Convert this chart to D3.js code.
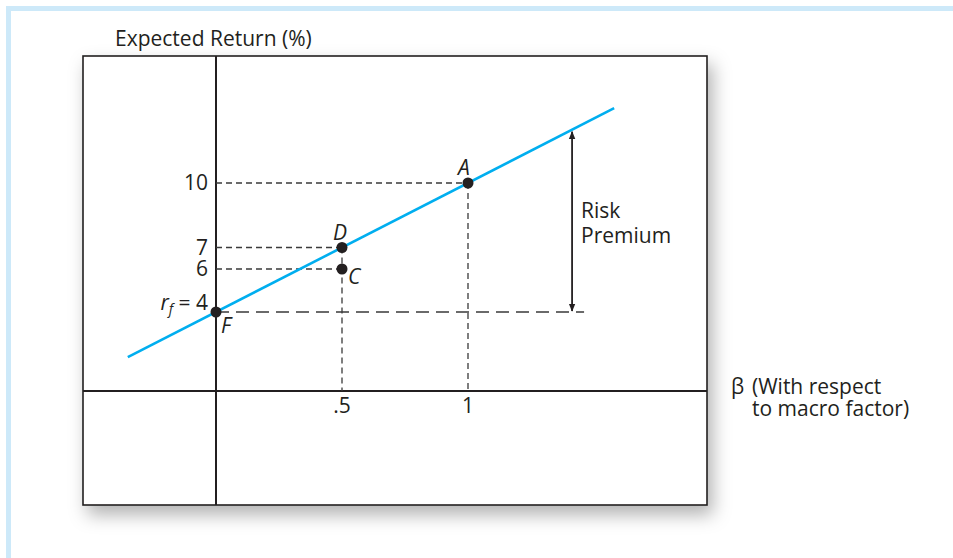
<!DOCTYPE html>
<html>
<head>
<meta charset="utf-8">
<script src="https://cdn.jsdelivr.net/npm/d3@7"></script>
<style>
  html, body { margin: 0; padding: 0; background: #fff; }
  svg { display: block; font-family: "Open Sans", "Noto Sans", sans-serif; }
  .lbl { font-size: 21px; fill: #231f20; }
  .it { font-style: italic; }
</style>
</head>
<body>
<svg id="chart" width="953" height="558"></svg>
<script>
// Security market line of a single-factor model
const rf = 4;
const smlBeta = [-0.35, 1.58];          // extent of the drawn line
const points = [
  { name: 'F', beta: 0,   ret: 4,  dx: 5,  dy: 21 },
  { name: 'D', beta: 0.5, ret: 7,  dx: -9, dy: -8 },
  { name: 'C', beta: 0.5, ret: 6,  dx: 6,  dy: 15 },
  { name: 'A', beta: 1,   ret: 10, dx: -10, dy: -8 }
];
const yTicks = [10, 7, 6];
const xTicks = [0.5, 1];
const xTickLabels = ['.5', '1'];
const premiumBeta = 1.413;              // where the risk premium arrow sits

const svg = d3.select('#chart');
const ink = '#231f20';
const blue = '#00aeef';

// page frame (light blue rule top & left)
svg.append('rect').attr('x', 6).attr('y', 6).attr('width', 947).attr('height', 5).attr('fill', '#cde9f9');
svg.append('rect').attr('x', 6).attr('y', 6).attr('width', 5).attr('height', 552).attr('fill', '#cde9f9');

// drop shadow for the plot box
const defs = svg.append('defs');
const f = defs.append('filter').attr('id', 'shadow').attr('x', '-10%').attr('y', '-10%').attr('width', '125%').attr('height', '130%');
f.append('feDropShadow').attr('dx', 5).attr('dy', 9).attr('stdDeviation', 9)
  .attr('flood-color', '#000').attr('flood-opacity', 0.3);

const box = { x0: 83, y0: 56, x1: 707, y1: 505 };
svg.append('rect')
  .attr('x', box.x0).attr('y', box.y0)
  .attr('width', box.x1 - box.x0).attr('height', box.y1 - box.y0)
  .attr('fill', '#fff').attr('stroke', ink).attr('stroke-width', 1.6)
  .attr('filter', 'url(#shadow)');

// scales
const x = d3.scaleLinear().domain([0, 1]).range([216, 468]);
const y = d3.scaleLinear().domain([4, 10]).range([312, 183]);
const axisY = 391;   // horizontal axis crossing

// axes lines
svg.append('line').attr('x1', box.x0).attr('x2', box.x1).attr('y1', axisY).attr('y2', axisY)
  .attr('stroke', ink).attr('stroke-width', 2);
svg.append('line').attr('x1', x(0)).attr('x2', x(0)).attr('y1', box.y0).attr('y2', box.y1)
  .attr('stroke', ink).attr('stroke-width', 2);

// dashed guides
const dashG = svg.append('g').attr('stroke', '#3a3a3a').attr('stroke-width', 1.3).attr('fill', 'none');
points.filter(p => p.name !== 'F').forEach(p => {
  dashG.append('line').attr('x1', x(0)).attr('x2', x(p.beta)).attr('y1', y(p.ret)).attr('y2', y(p.ret))
    .attr('stroke-dasharray', '6,4');
});
xTicks.forEach(b => {
  const top = d3.min(points.filter(p => p.beta === b), p => y(p.ret));
  dashG.append('line').attr('x1', x(b)).attr('x2', x(b)).attr('y1', top).attr('y2', axisY)
    .attr('stroke-dasharray', '6,4');
});
// risk-free line, longer dashes
dashG.append('line').attr('x1', x(0)).attr('x2', x(premiumBeta) + 12).attr('y1', y(rf)).attr('y2', y(rf))
  .attr('stroke-dasharray', '13,7');

// SML
const sml = b => rf + (10 - rf) * b;
svg.append('line')
  .attr('x1', x(smlBeta[0])).attr('y1', y(sml(smlBeta[0])))
  .attr('x2', x(smlBeta[1])).attr('y2', y(sml(smlBeta[1])))
  .attr('stroke', blue).attr('stroke-width', 2.6);

// risk premium arrow
defs.append('marker').attr('id', 'ah').attr('viewBox', '0 0 10 10')
  .attr('refX', 9).attr('refY', 5).attr('markerWidth', 8).attr('markerHeight', 10)
  .attr('orient', 'auto-start-reverse').attr('markerUnits', 'userSpaceOnUse')
  .append('path').attr('d', 'M0,1 L10,5 L0,9 Z').attr('fill', ink);
svg.append('line')
  .attr('x1', x(premiumBeta)).attr('x2', x(premiumBeta))
  .attr('y1', y(sml(premiumBeta)) + 2).attr('y2', y(rf) - 1)
  .attr('stroke', ink).attr('stroke-width', 1.8)
  .attr('marker-start', 'url(#ah)').attr('marker-end', 'url(#ah)');
svg.append('text').attr('class', 'lbl').attr('x', x(premiumBeta) + 9).attr('y', 218).text('Risk');
svg.append('text').attr('class', 'lbl').attr('x', x(premiumBeta) + 9).attr('y', 243).text('Premium');

// points
points.forEach(p => {
  svg.append('circle').attr('cx', x(p.beta)).attr('cy', y(p.ret)).attr('r', 5.5).attr('fill', ink);
  svg.append('text').attr('class', 'lbl it').attr('x', x(p.beta) + p.dx).attr('y', y(p.ret) + p.dy)
    .text(p.name);
});

// y tick labels
yTicks.forEach(v => {
  svg.append('text').attr('class', 'lbl').attr('x', x(0) - 8).attr('y', y(v) + 7)
    .attr('text-anchor', 'end').text(v);
});
const rfl = svg.append('text').attr('class', 'lbl').attr('x', x(0) - 8).attr('y', y(rf) - 2)
  .attr('text-anchor', 'end');
rfl.append('tspan').attr('font-style', 'italic').text('r');
rfl.append('tspan').attr('font-style', 'italic').attr('font-size', 14).attr('dy', 4).text('f');
rfl.append('tspan').attr('dy', -4).text(' = ' + rf);

// x tick labels
xTicks.forEach((b, i) => {
  svg.append('text').attr('class', 'lbl').attr('x', x(b)).attr('y', axisY + 22)
    .attr('text-anchor', 'middle').text(xTickLabels[i]);
});

// axis titles
svg.append('text').attr('class', 'lbl').attr('x', 115).attr('y', 46).text('Expected Return (%)');
svg.append('text').attr('class', 'lbl').attr('x', 731).attr('y', 394).text('β');
svg.append('text').attr('class', 'lbl').attr('x', 752).attr('y', 394).text('(With respect');
svg.append('text').attr('class', 'lbl').attr('x', 752).attr('y', 416).text('to macro factor)');
</script>
</body>
</html>
